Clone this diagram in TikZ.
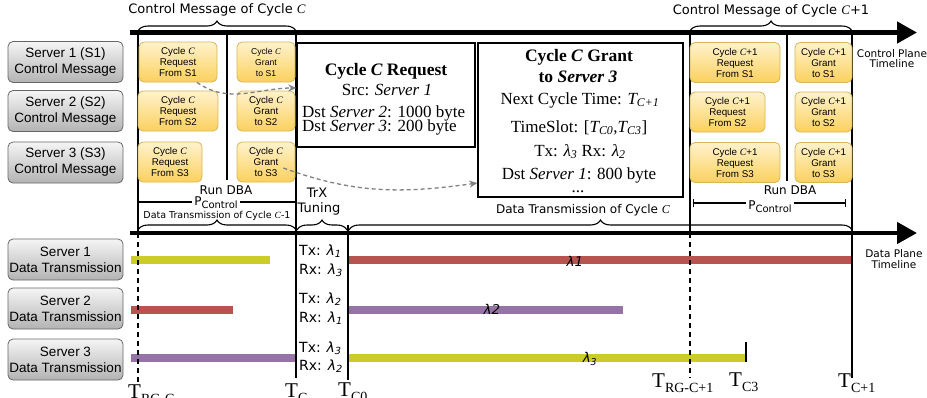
\documentclass[tikz,border=0pt]{standalone}
\usepackage{fontspec}
\setmainfont{Liberation Serif}
\setsansfont{Liberation Sans}
\newfontfamily\vsans{DejaVu Sans}
\usetikzlibrary{arrows.meta,decorations.pathreplacing,calc}

\definecolor{ytop}{HTML}{FFF2CC}
\definecolor{ybot}{HTML}{FBD15E}
\definecolor{ybord}{HTML}{D6B656}
\definecolor{gtop}{HTML}{F5F5F5}
\definecolor{gbot}{HTML}{B3B3B3}
\definecolor{gbord}{HTML}{666666}
\definecolor{barR}{HTML}{B85450}
\definecolor{barP}{HTML}{9673A6}
\definecolor{barY}{HTML}{CCCC29}

\newcommand{\fsz}[2]{\fontsize{#1}{#2}\selectfont}
\newcommand{\cycC}{{\rmfamily\itshape C}}
\newcommand{\tsub}[1]{{\fsz{21}{21}T}\raisebox{-5pt}{\fsz{14}{14}#1}}
\newcommand{\lam}[1]{{\itshape λ\textsubscript{#1}}}

\begin{document}
\begin{tikzpicture}[x=1pt,y=-1pt,
  graybox/.style={draw=gbord, rounded corners=5pt, top color=gtop, bottom color=gbot,
    line width=0.8pt, minimum width=115pt, minimum height=41pt, inner sep=0pt,
    align=center, font=\sffamily\fsz{13.5}{16}},
  ybox/.style={draw=ybord, rounded corners=5pt, top color=ytop, bottom color=ybot,
    line width=0.8pt, minimum height=40pt, inner sep=0pt, align=center,
    font=\sffamily\fsz{9.8}{11}},
  callout/.style={draw, line width=1.3pt, inner sep=0pt, fill=white},
  tline/.style={line width=4.5pt, -{Triangle[length=20pt,width=21pt]}},
  vline/.style={line width=1.3pt},
  rgline/.style={line width=1.3pt, dash pattern=on 5pt off 4pt},
  bar/.style={line width=8pt},
  msgarrow/.style={draw=black!50, line width=1.3pt, dash pattern=on 4pt off 3pt,
    -{Stealth[length=8pt,width=7pt]}},
  ubrace/.style={decorate, decoration={brace, amplitude=10pt}, line width=1.1pt},
  lbl/.style={inner sep=0pt, font=\vsans\fsz{13}{15}},
  trlbl/.style={inner sep=0pt, anchor=base west, font=\vsans\fsz{14}{15}},
  ser/.style={inner sep=0pt, font=\rmfamily\fsz{17}{17}},
  serb/.style={inner sep=0pt, font=\rmfamily\bfseries\fsz{17.5}{17.5}},
  tlab/.style={inner sep=0pt, anchor=base west, font=\rmfamily}]

\useasboundingbox (0,0) rectangle (927,397);

% data bars before and after the tuning gap
\draw[bar, barY] (131,259.5) -- (270,259.5);
\draw[bar, barR] (131,309.5) -- (233,309.5);
\draw[bar, barP] (131,357.5) -- (296,357.5);
\draw[bar, barR] (348,259.5) -- (852,259.5);
\draw[bar, barP] (348,309.5) -- (623,309.5);
\draw[bar, barY] (348,357.5) -- (746,357.5);

% cycle boundaries
\draw[vline] (138,32) -- (138,233);
\draw[vline] (227,32) -- (227,180);
\draw[vline] (296,32) -- (296,378);
\draw[vline] (348,225) -- (348,380);
\draw[vline] (690,32) -- (690,233);
\draw[rgline] (690,233) -- (690,378);
\draw[vline] (787,32) -- (787,181);
\draw[vline] (852,32) -- (852,378);
\draw[vline] (746,342) -- (746,362);
\draw[rgline] (138,233) -- (138,382);

% timelines
\coordinate (cp0) at (130,32.5);
\coordinate (cp1) at (917,32.5);
\coordinate (dp0) at (130,233);
\coordinate (dp1) at (917,233);
\draw[tline] (cp0) -- (cp1);
\draw[tline] (dp0) -- (dp1);

\node[inner sep=0pt, font=\vsans\fsz{10.5}{10.5}, anchor=base] (cpl1) at (892,57) {Control Plane};
\node[inner sep=0pt, font=\vsans\fsz{10.5}{10.5}, anchor=base] (cpl2) at (892,67) {Timeline};
\node[inner sep=0pt, font=\vsans\fsz{10.5}{10.5}, anchor=base] (dpl1) at (894,257) {Data Plane};
\node[inner sep=0pt, font=\vsans\fsz{10.5}{10.5}, anchor=base] (dpl2) at (894,268) {Timeline};

% server labels
\node[graybox] (s1c) at (65.5,62) {Server 1 (S1)\\Control Message};
\node[graybox] (s2c) at (65.5,111) {Server 2 (S2)\\Control Message};
\node[graybox] (s3c) at (65.5,162.5) {Server 3 (S3)\\Control Message};
\node[graybox] (s1d) at (65.5,259.5) {Server 1\\Data Transmission};
\node[graybox] (s2d) at (65.5,308.5) {Server 2\\Data Transmission};
\node[graybox] (s3d) at (65.5,359.5) {Server 3\\Data Transmission};

% control messages of cycle C
\node[ybox, minimum width=78pt] (r1) at (178,62) {Cycle \cycC\\Request\\From S1};
\node[ybox, minimum width=80pt] (r2) at (178,111) {Cycle \cycC\\Request\\From S2};
\node[ybox, minimum width=64pt] (r3) at (170,162) {Cycle \cycC\\Request\\From S3};
\node[ybox, minimum width=58pt, font=\sffamily\fsz{8.6}{11}] (g1) at (266,62) {Cycle \cycC\\Grant\\to S1};
\node[ybox, minimum width=58pt] (g2) at (266,111) {Cycle \cycC\\Grant\\to S2};
\node[ybox, minimum width=58pt] (g3) at (266,162) {Cycle \cycC\\Grant\\to S3};

% control messages of cycle C+1
\node[ybox, minimum width=90pt] (n1) at (735,62.5) {Cycle \cycC+1\\Request\\From S1};
\node[ybox, minimum width=75pt] (n2) at (727.5,112) {Cycle \cycC+1\\Request\\From S2};
\node[ybox, minimum width=90pt] (n3) at (735,162.5) {Cycle \cycC+1\\Request\\From S3};
\node[ybox, minimum width=57pt] (m1) at (823.5,62.5) {Cycle \cycC+1\\Grant\\to S1};
\node[ybox, minimum width=57pt] (m2) at (823.5,112) {Cycle \cycC+1\\Grant\\to S2};
\node[ybox, minimum width=57pt] (m3) at (823.5,162.5) {Cycle \cycC+1\\Grant\\to S3};

% headings and braces
\node[lbl, anchor=base] (hC) at (217,13) {Control Message of Cycle \cycC};
\node[lbl, anchor=base] (hC1) at (771,14) {Control Message of Cycle \cycC+1};
\draw[ubrace] (138,31) -- (296,31);
\draw[ubrace] (690,31) -- (852,31);

\node[lbl, font=\vsans\fsz{12}{12}, anchor=base] (dbaC) at (226,194) {Run DBA};
\node[lbl, font=\vsans\fsz{12}{12}, anchor=base] (dbaC1) at (790,194) {Run DBA};

\node[inner sep=0pt, anchor=base] (pcC) at (216,205) {\vsans\fsz{12}{12}P\raisebox{-3pt}{\fsz{10}{10}Control}};
\draw[vline] (138,202) -- ([xshift=-2pt]pcC.west |- 0,202);
\draw[vline] ([xshift=2pt]pcC.east |- 0,202) -- (296,202);
\node[inner sep=0pt, anchor=base] (pcC1) at (770,209) {\vsans\fsz{12}{12}P\raisebox{-3pt}{\fsz{10}{10}Control}};
\draw[vline, {Bar[width=8pt]}-] (693,203) -- ([xshift=-2pt]pcC1.west |- 0,203);
\draw[vline, -{Bar[width=8pt]}] ([xshift=2pt]pcC1.east |- 0,203) -- (846,203);

\node[inner sep=0pt, font=\vsans\fsz{9.5}{9.5}, anchor=base] (dtC0) at (217,218) {Data Transmission of Cycle \cycC-1};
\draw[ubrace] (138,230) -- (296,230);
\node[lbl, anchor=base] (trx) at (317,197) {TrX};
\node[lbl, anchor=base] (tun) at (319,212) {Tuning};
\draw[ubrace] (297,230) -- (347,230);
\node[inner sep=0pt, font=\vsans\fsz{12}{12}, anchor=base] (dtC) at (583,213) {Data Transmission of Cycle \cycC};
\draw[ubrace] (349,230) -- (852,230);

% transceiver tuning
\node[trlbl] (tx1) at (299,255) {Tx: \lam{1}};
\node[trlbl] (rx1) at (299,274) {Rx: \lam{3}};
\node[trlbl] (tx2) at (299,303) {Tx: \lam{2}};
\node[trlbl] (rx2) at (299,322) {Rx: \lam{1}};
\node[trlbl] (tx3) at (299,352) {Tx: \lam{3}};
\node[trlbl] (rx3) at (299,370) {Rx: \lam{2}};

% wavelengths on the bars
\node[inner sep=0pt, font=\vsans\fsz{13.5}{13.5}\itshape] (w1) at (575,261) {λ1};
\node[inner sep=0pt, font=\vsans\fsz{13.5}{13.5}\itshape] (w2) at (492,309) {λ2};
\node[inner sep=0pt, font=\vsans\fsz{13.5}{13.5}\itshape] (w3) at (590,359) {λ\textsubscript{3}};

% time marks
\node[tlab] (tRG) at (128,398) {\tsub{RG-C}};
\node[tlab] (tC) at (285,397) {\tsub{C}};
\node[tlab] (tC0) at (338,396) {\tsub{C0}};
\node[tlab] (tRG1) at (652,387) {\tsub{RG-C+1}};
\node[tlab] (tC3) at (729,386) {\tsub{C3}};
\node[tlab] (tC1) at (838,387) {\tsub{C+1}};

% request and grant contents
\node[callout, minimum width=178pt, minimum height=104pt] (reqcall) at (386,95) {};
\node[serb, anchor=base] (rq1) at (386,75) {Cycle {\itshape C} Request};
\node[ser, anchor=base] (rq2) at (387,95) {Src: {\itshape Server 1}};
\node[ser, anchor=base west] (rq3) at (302,117) {Dst {\itshape Server 2}: 1000 byte};
\node[ser, anchor=base west] (rq4) at (302,131) {Dst {\itshape Server 3}: 200 byte};

\node[callout, minimum width=205pt, minimum height=154pt] (grantcall) at (580.5,120) {};
\node[serb, anchor=base] (gr1) at (579,61) {Cycle {\itshape C} Grant};
\node[serb, anchor=base] (gr2) at (578,82) {to {\itshape Server 3}};
\node[ser, anchor=base] (gr3) at (580,104) {Next Cycle Time: {\itshape T\textsubscript{C+1}}};
\node[ser, anchor=base] (gr4) at (579,132) {TimeSlot: [{\itshape T\textsubscript{C0}},{\itshape T\textsubscript{C3}}]};
\node[ser, anchor=base] (gr5) at (580,156) {Tx: {\itshape λ\textsubscript{3}} Rx: {\itshape λ\textsubscript{2}}};
\node[ser, anchor=base] (gr6) at (579,179) {Dst {\itshape Server 1}: 800 byte};
\node[ser, anchor=base] (gr7) at (578,192) {...};

% message flow
\draw[msgarrow] ([xshift=19pt]r1.south) to[out=-35, in=180] ([yshift=7pt]reqcall.west);
\draw[msgarrow] ([shift={(-12pt,-6pt)}]g3.east) to[out=-20, in=188] ([yshift=-63pt]grantcall.west);

\end{tikzpicture}
\end{document}
